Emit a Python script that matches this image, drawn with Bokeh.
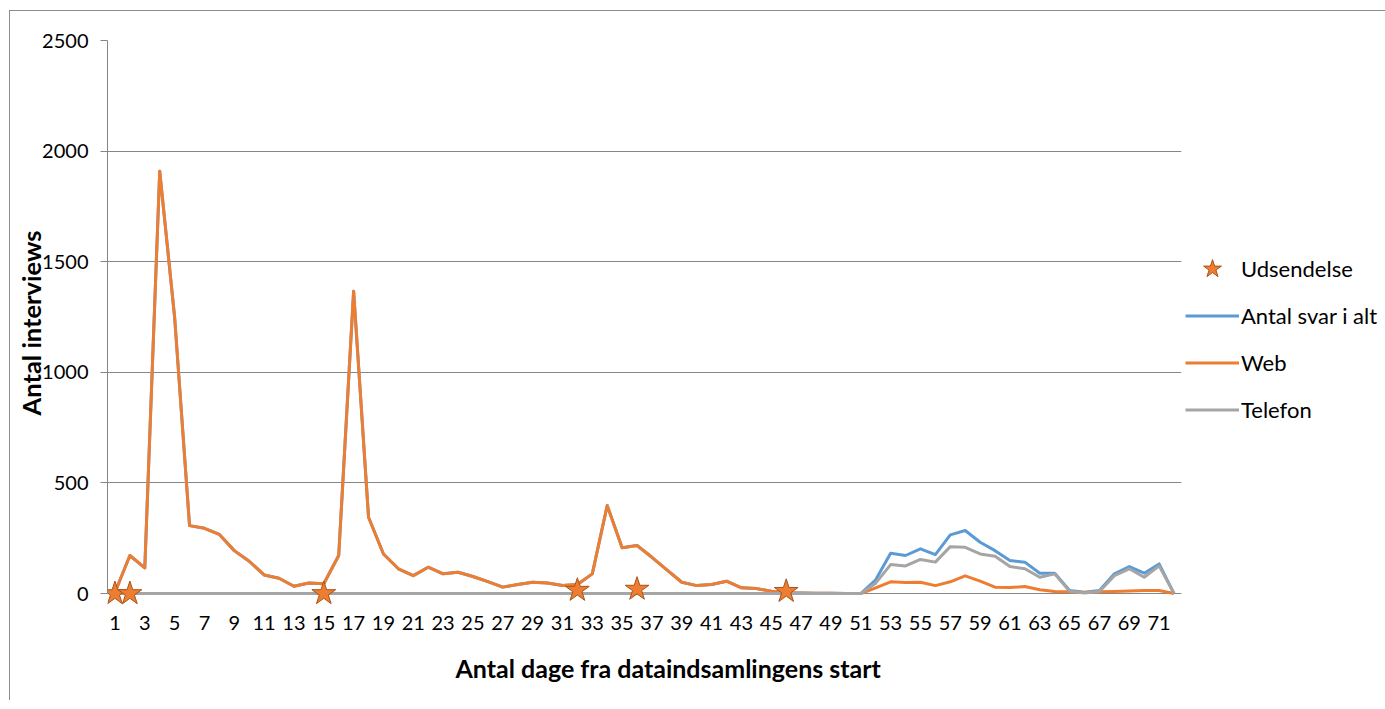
from bokeh.plotting import figure
from bokeh.models import Range1d, FixedTicker, Legend, LegendItem, Title
from bokeh.embed import file_html
from bokeh.resources import INLINE

days = list(range(1, 73))
tick_days = list(range(1, 72, 2))
y_ticks = [0, 500, 1000, 1500, 2000, 2500]

total = [5, 172, 116, 1909, 1249, 307, 295, 267, 194, 146,
         84, 69, 33, 48, 44, 172, 1367, 345, 179, 112,
         81, 119, 89, 96, 77, 54, 29, 41, 51, 48,
         36, 41, 89, 398, 207, 217, 164, 107, 51, 36,
         41, 56, 26, 23, 10, 4, 2, 1, 1, 0,
         0, 62, 182, 172, 202, 176, 265, 285, 232, 194,
         149, 142, 92, 92, 14, 6, 14, 89, 122, 92,
         134, 0]
web = [5, 172, 116, 1909, 1249, 307, 295, 267, 194, 146,
       84, 69, 33, 48, 44, 172, 1367, 345, 179, 112,
       81, 119, 89, 96, 77, 54, 29, 41, 51, 48,
       36, 41, 89, 398, 207, 217, 164, 107, 51, 36,
       41, 56, 26, 23, 10, 4, 2, 1, 1, 0,
       0, 26, 53, 50, 51, 36, 53, 80, 56, 29,
       27, 32, 17, 9, 8, 5, 8, 9, 11, 14,
       14, 0]
telefon = [0] * 51 + [47, 131, 125, 154, 142, 212, 209, 179, 169, 122,
                      112, 74, 89, 10, 2, 9, 81, 112, 74, 125, 0]
star_days = [1, 2, 15, 32, 36, 46]
star_values = [0, 0, 0, 15, 20, 10]

FONT = "Lato"
GRID = "#868686"

p = figure(frame_width=1074, frame_height=565,
           output_backend="svg", toolbar_location=None, title_location=None,
           x_range=Range1d(0.5, 72.5), y_range=Range1d(-54, 2500),
           min_border_left=97, min_border_top=29, min_border_right=200,
           min_border_bottom=40)
p.styles = {"border-left": "1px solid #8c8c8c", "border-top": "1px solid #8c8c8c",
            "margin-left": "9px", "margin-top": "10px"}
p.outline_line_color = None
p.background_fill_color = "white"
p.border_fill_color = "white"

r_total = p.line(days, total, color="#5B9BD5", line_width=3, line_join="round")
r_web = p.line(days, web, color="#ED7D31", line_width=3, line_join="round")
r_tel = p.line(days, telefon, color="#A5A5A5", line_width=3, line_join="round")
r_star = p.scatter(star_days, star_values, marker="star", size=25,
                   fill_color="#ED7D31", line_color="#A85418", line_width=1)

# axes
p.xaxis.ticker = FixedTicker(ticks=tick_days)
p.xaxis.axis_line_color = None
p.xaxis.major_tick_line_color = None
p.xaxis.major_tick_out = 0
p.xaxis.major_tick_in = 0
p.xaxis.minor_tick_line_color = None
p.xaxis.major_label_standoff = 10
p.xaxis.major_label_text_font = FONT
p.xaxis.major_label_text_font_size = "20px"
p.xaxis.major_label_text_color = "black"

p.yaxis.ticker = FixedTicker(ticks=y_ticks)
p.yaxis.bounds = (0, 2500)
p.yaxis.axis_line_color = GRID
p.yaxis.major_tick_line_color = GRID
p.yaxis.major_tick_out = 7
p.yaxis.major_tick_in = 0
p.yaxis.minor_tick_line_color = None
p.yaxis.major_label_standoff = 12
p.yaxis.major_label_text_font = FONT
p.yaxis.major_label_text_font_size = "20px"
p.yaxis.major_label_text_color = "black"
p.yaxis.axis_label = "Antal interviews"
p.yaxis.axis_label_text_font = FONT
p.yaxis.axis_label_text_font_style = "bold"
p.yaxis.axis_label_text_font_size = "25.5px"
p.yaxis.axis_label_text_color = "black"
p.yaxis.axis_label_standoff = -7

p.xgrid.grid_line_color = None
p.ygrid.ticker = FixedTicker(ticks=y_ticks)
p.ygrid.grid_line_color = GRID
p.ygrid.grid_line_width = 1

xt = Title(text="Antal dage fra dataindsamlingens start", align="left", offset=348,
           text_font=FONT, text_font_style="bold", text_font_size="25px",
           text_color="black", standoff=36)
p.add_layout(xt, "below")

legend = Legend(items=[
    LegendItem(label="Udsendelse", renderers=[r_star]),
    LegendItem(label="Antal svar i alt", renderers=[r_total]),
    LegendItem(label="Web", renderers=[r_web]),
    LegendItem(label="Telefon", renderers=[r_tel]),
], location=(4, 172), padding=0, margin=0, spacing=0,
    glyph_width=54, glyph_height=47, label_height=20, label_standoff=2,
    label_text_font=FONT, label_text_font_size="22px", label_text_color="black",
    border_line_color=None, background_fill_alpha=0)
p.add_layout(legend, "right")

open("out.html", "w").write(file_html(p, INLINE))
